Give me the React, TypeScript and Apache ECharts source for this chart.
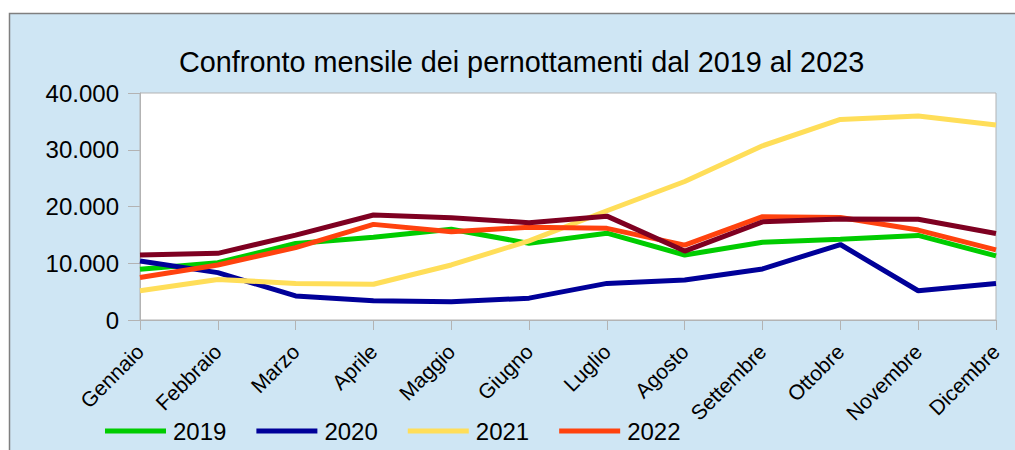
import React, { useEffect, useRef } from "react";
import * as echarts from "echarts";

const months = ["Gennaio", "Febbraio", "Marzo", "Aprile", "Maggio", "Giugno", "Luglio", "Agosto", "Settembre", "Ottobre", "Novembre", "Dicembre"];
const y2019 = [8950, 10100, 13500, 14600, 16000, 13500, 15300, 11450, 13700, 14250, 14900, 11300];
const y2020 = [10400, 8350, 4250, 3400, 3200, 3850, 6450, 7050, 9000, 13300, 5150, 6450];
const y2021 = [5150, 7150, 6450, 6300, 9700, 13950, 19250, 24400, 30700, 35350, 35950, 34350];
const y2022 = [7500, 9700, 12750, 16850, 15550, 16350, 16150, 13200, 18200, 18050, 15850, 12350];
const y2023 = [11450, 11750, 14950, 18500, 18000, 17150, 18300, 12150, 17300, 17800, 17750, 15250];

const seriesDefs = [
  { name: "2019", data: y2019, color: "#00cc00" },
  { name: "2020", data: y2020, color: "#000099" },
  { name: "2021", data: y2021, color: "#ffde59" },
  { name: "2022", data: y2022, color: "#ff420e" },
  { name: "2023", data: y2023, color: "#7e0021" },
];
const legendNames = ["2019", "2020", "2021", "2022"];

const fmt = (v: number) => String(v).replace(/\B(?=(\d{3})+(?!\d))/g, ".");

export default function App() {
  const ref = useRef<HTMLDivElement>(null);
  useEffect(() => {
    if (!ref.current) return;
    const chart = echarts.init(ref.current, undefined, { renderer: "svg" });
    const font = "'Liberation Sans', Arial, sans-serif";
    chart.setOption({
      animation: false,
      backgroundColor: "#ffffff",
      textStyle: { fontFamily: font },
      graphic: [
        {
          type: "rect",
          z: -10,
          silent: true,
          shape: { x: 9.5, y: 13.5, width: 1020, height: 450 },
          style: { fill: "#cfe6f4", stroke: "#7f7f7f", lineWidth: 1.5 },
        },
      ],
      title: {
        text: "Confronto mensile dei pernottamenti dal 2019 al 2023",
        left: 174,
        top: 42,
        textStyle: { fontFamily: font, fontSize: 28.8, fontWeight: "normal", color: "#000" },
      },
      legend: {
        data: legendNames,
        left: 100,
        top: 414,
        icon: "rect",
        itemWidth: 61,
        itemHeight: 5,
        itemGap: 30,
        textStyle: { fontFamily: font, fontSize: 24, color: "#000", padding: [0, 0, 0, 2] },
      },
      grid: {
        left: 140,
        right: 19,
        top: 93,
        bottom: 130,
        show: true,
        backgroundColor: "#ffffff",
        borderColor: "#b3b3b3",
        borderWidth: 1,
      },
      xAxis: {
        type: "category",
        data: months,
        boundaryGap: false,
        axisLine: { lineStyle: { color: "#b3b3b3" } },
        axisTick: { show: true, length: 10, interval: 0, lineStyle: { color: "#b3b3b3" } },
        axisLabel: { rotate: 45, interval: 0, margin: 28, fontFamily: font, fontSize: 21, color: "#000" },
        splitLine: { show: false },
      },
      yAxis: {
        type: "value",
        min: 0,
        max: 40000,
        interval: 10000,
        axisLine: { show: true, lineStyle: { color: "#b3b3b3" } },
        axisTick: { show: true, length: 12, lineStyle: { color: "#b3b3b3" } },
        axisLabel: { margin: 21, fontFamily: font, fontSize: 24, color: "#000", formatter: fmt },
        splitLine: { show: false },
      },
      series: seriesDefs.map((s) => ({
        name: s.name,
        type: "line",
        data: s.data,
        symbol: "none",
        color: s.color,
        lineStyle: { width: 5, color: s.color },
      })),
    });
    return () => chart.dispose();
  }, []);
  return (
    <div
      ref={ref}
      style={{ position: "absolute", left: 0, top: 0, width: 1015, height: 450 }}
    />
  );
}
